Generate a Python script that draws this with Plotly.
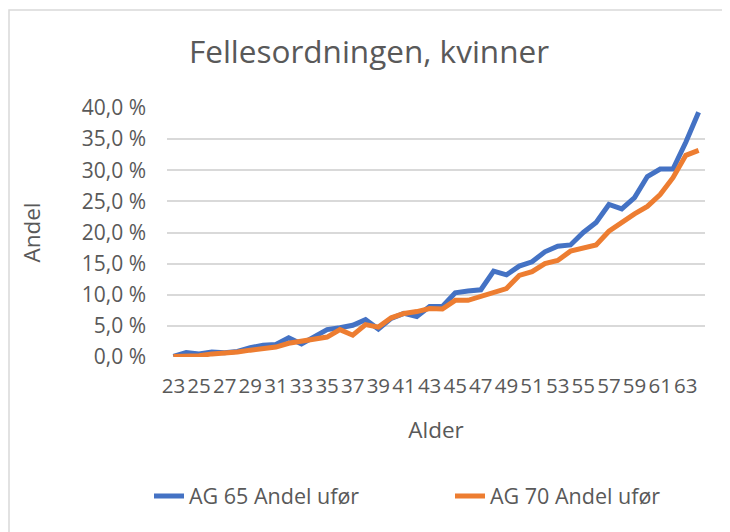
import plotly.graph_objects as go

ages = list(range(23, 65))
ag65 = [0.1, 0.7, 0.5, 0.8, 0.7, 0.9, 1.5, 1.9, 2.0, 3.1, 2.1, 3.2, 4.4, 4.7, 5.1, 6.0,
        4.5, 6.2, 7.0, 6.5, 8.1, 8.1, 10.3, 10.6, 10.8, 13.8, 13.2, 14.6, 15.3, 16.9,
        17.8, 18.0, 20.0, 21.6, 24.5, 23.8, 25.6, 29.0, 30.2, 30.2, 34.5, 39.3]
ag70 = [0.1, 0.1, 0.2, 0.5, 0.6, 0.8, 1.1, 1.3, 1.6, 2.2, 2.5, 3.0, 3.2, 4.4, 3.5, 5.2,
        4.8, 6.3, 7.0, 7.3, 7.8, 7.7, 9.1, 9.1, 9.7, 10.4, 11.0, 13.1, 13.7, 15.0,
        15.5, 17.0, 17.5, 18.0, 20.2, 21.7, 23.0, 24.2, 26.1, 28.8, 32.4, 33.2]
series_names = ["AG 65 Andel ufør", "AG 70 Andel ufør"]
title_text = "Fellesordningen, kvinner"
x_title = "Alder"
y_title = "Andel"

TXT = "#595959"
FONT = "Open Sans"

fig = go.Figure()
fig.add_trace(go.Scatter(x=ages, y=ag65, mode="lines", name=series_names[0],
                         line=dict(color="#4472C4", width=5), legend="legend"))
fig.add_trace(go.Scatter(x=ages, y=ag70, mode="lines", name=series_names[1],
                         line=dict(color="#ED7D31", width=5), legend="legend2"))

# page body has an 8px margin, so the figure is 8px smaller and everything is offset by 8px
OFF = 8
W, H = 730 - OFF, 532 - OFF
L, R, T, B = 167 - OFF, 25, 108 - OFF, 175
pw, ph = W - L - R, H - T - B

def px_x(p):
    return (p - OFF - L) / pw

def px_y(p):
    return (H - B - (p - OFF)) / ph

legend_common = dict(orientation="h", xref="container", yref="container",
                     xanchor="left", y=1 - (496 - OFF) / H, yanchor="middle",
                     font=dict(size=21.5, color=TXT, family=FONT), bgcolor="rgba(0,0,0,0)")

fig.update_layout(
    width=W, height=H,
    margin=dict(l=L, r=R, t=T, b=B, autoexpand=False),
    paper_bgcolor="white", plot_bgcolor="white",
    separators=", ",
    font=dict(family=FONT, color=TXT, size=21),
    title=dict(text=title_text, x=(369 - OFF) / W, xref="container", xanchor="center",
               y=1 - (52 - OFF) / H, yref="container", yanchor="middle",
               font=dict(size=31.5, color=TXT, family=FONT)),
    showlegend=True,
    legend=dict(x=(149 - OFF) / W, **legend_common),
    legend2=dict(x=(450 - OFF) / W, **legend_common),
    xaxis=dict(range=[22.5, 64.5], tick0=23, dtick=2, showgrid=False, zeroline=False,
               showline=False, ticks="", ticklabelstandoff=14, tickangle=0, automargin=False,
               tickfont=dict(size=20.5, color=TXT, family=FONT),
               title=dict(text=x_title, standoff=24, font=dict(size=22.5, color=TXT, family=FONT))),
    yaxis=dict(range=[0, 40], dtick=5, tickformat=".1f", ticksuffix=" %",
               showgrid=True, gridcolor="#d9d9d9", gridwidth=1.5, zeroline=False,
               showline=False, ticks="", ticklabelstandoff=20, automargin=False,
               tickfont=dict(size=21, color=TXT, family=FONT),
               title=dict(text=y_title, standoff=34, font=dict(size=22.5, color=TXT, family=FONT))),
    shapes=[dict(type="rect", xref="paper", yref="paper",
                 x0=px_x(9), x1=px_x(760), y0=px_y(560), y1=px_y(10),
                 line=dict(color="#d9d9d9", width=1.5), fillcolor="rgba(0,0,0,0)", layer="below")],
)

fig.write_html("out.html")
